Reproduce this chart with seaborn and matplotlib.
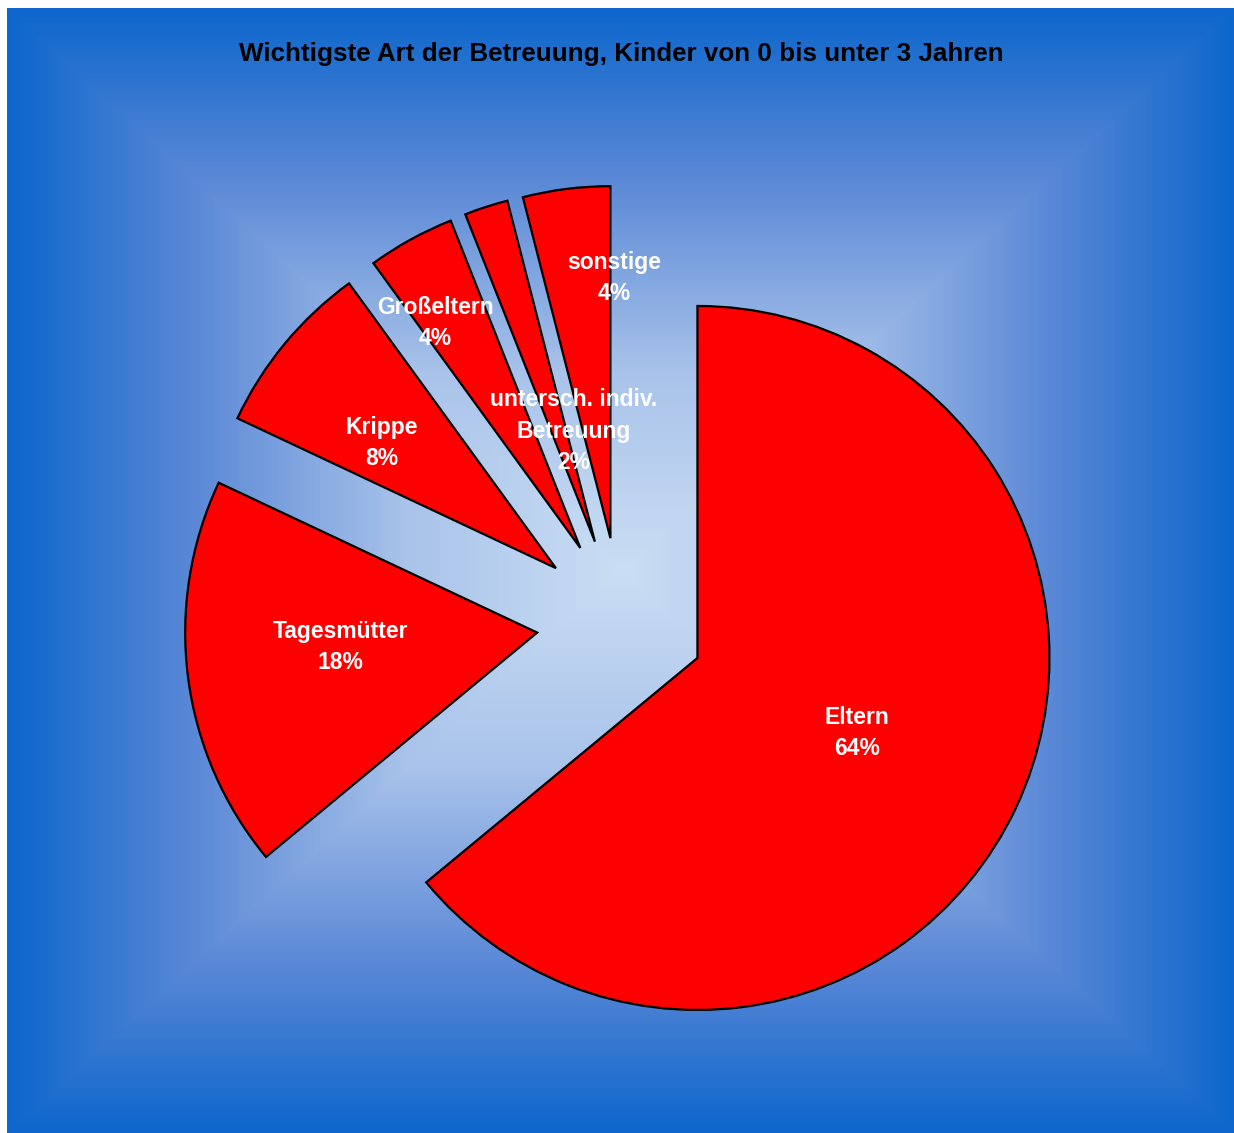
import numpy as np
import matplotlib
matplotlib.use("Agg")
import matplotlib.pyplot as plt
import seaborn as sns
from matplotlib.colors import LinearSegmentedColormap

sns.set_theme(style="white")
plt.rcParams['font.family'] = ['Liberation Sans', 'DejaVu Sans']

# ---- data ----
categories = ["Eltern", "Tagesmütter", "Krippe", "Großeltern",
              "untersch. indiv.\nBetreuung", "sonstige"]
shares = [64, 18, 8, 4, 2, 4]
title = "Wichtigste Art der Betreuung, Kinder von 0 bis unter 3 Jahren"

# label placement (fraction of radius from exploded apex, angle tweak in deg)
label_dist = [0.50, 0.56, 0.61, 0.76, 0.32, 0.74]
label_dang = [0, -3, 4, 4, -7, -8]

W, H, DPI = 1234, 1133, 100
fig = plt.figure(figsize=(W / DPI, H / DPI), dpi=DPI)
fig.patch.set_facecolor("white")

# ---- background gradient (rectangular, light centre -> dark edges) ----
bx0, by0 = 7, 8  # top-left pixel of blue area
bg = fig.add_axes([bx0 / W, 0, 1 - bx0 / W, (H - by0) / H])
bw, bh = W - bx0, H - by0
xs = np.arange(bw) + bx0
ys = np.arange(bh) + by0
X, Y = np.meshgrid(xs, ys)
cx, cy = 622, 570
tx = np.where(X < cx, (cx - X) / (cx - bx0), (X - cx) / (W - cx))
ty = np.where(Y < cy, (cy - Y) / (cy - by0), (Y - cy) / (H - cy))
T = np.maximum(tx, ty)
cmap = LinearSegmentedColormap.from_list(
    "bgc", [(0.0, "#cadef4"), (0.35, "#a9c3ea"), (0.7, "#5a88d6"), (1.0, "#0c66cc")])
bg.imshow(T, cmap=cmap, vmin=0, vmax=1, aspect="auto", interpolation="bilinear")
bg.set_axis_off()

# ---- pie ----
R = 352.0                 # radius in pixels
pcx, pcy = 621, 622       # pie centre in pixels (from top)
half = 520
ax = fig.add_axes([(pcx - half) / W, (H - pcy - half) / H, 2 * half / W, 2 * half / H])
ax.patch.set_alpha(0)

explode = [0.24] * len(shares)
wedges, _ = ax.pie(shares, explode=explode, startangle=90, counterclock=False,
                   colors=["#ff0000"] * len(shares),
                   wedgeprops=dict(edgecolor="black", linewidth=1.6))
ax.set_xlim(-half / R, half / R)
ax.set_ylim(-half / R, half / R)
ax.set_axis_off()

for w, lab, val, d, da in zip(wedges, categories, shares, label_dist, label_dang):
    mid = np.deg2rad((w.theta1 + w.theta2) / 2 + da)
    x0, y0 = w.center
    ax.text(x0 + d * np.cos(mid), y0 + d * np.sin(mid), f"{lab}\n{val}%",
            ha="center", va="center", color="white", fontsize=16.5,
            fontweight="bold", linespacing=1.45)

fig.text(621 / W, 1 - 54 / H, title, ha="center", va="center",
         fontsize=18.7, fontweight="bold", color="black")

fig.savefig("out.png", dpi=DPI)
